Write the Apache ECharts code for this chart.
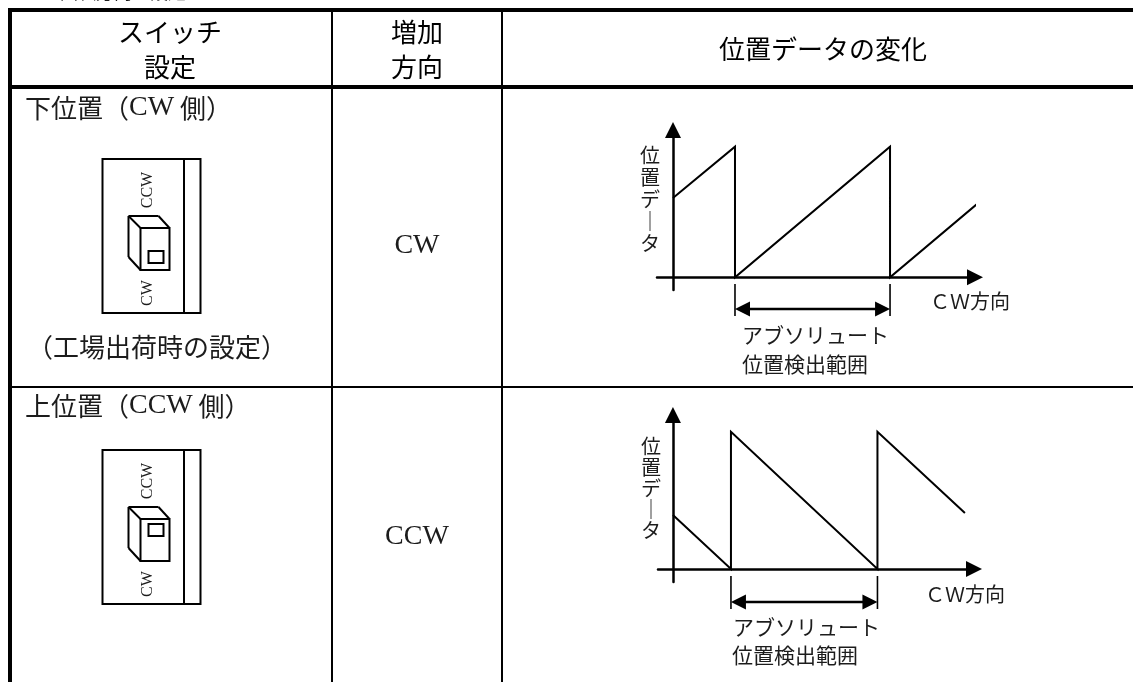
<!DOCTYPE html>
<html lang="ja">
<head>
<meta charset="utf-8">
<style>html,body{margin:0;padding:0;background:#fff}#c{width:1133px;height:682px}</style>
<script src="https://cdn.jsdelivr.net/npm/echarts@6/dist/echarts.min.js"></script>
</head>
<body>
<div id="c"></div>
<script>
// Data: position data against rotation (unit = one absolute detection range)
const cwAngle   = [0, 0.4, 0.4, 1.4, 1.4, 1.987];
const cwData    = [0.607, 1, 0, 1, 0, 0.587];
const ccwAngle  = [0, 0.396, 0.396, 1.396, 1.396, 1.993];
const ccwData   = [0.393, 0, 1, 0, 1, 0.408];
const rangeCw   = [0.4, 1.4];
const rangeCcw  = [0.396, 1.396];
// Text
const headSwitch = ['スイッチ', '設定'];
const headDir    = ['増加', '方向'];
const headData   = '位置データの変化';
const rowLabels  = [['下位置（', 'CW', ' 側）'], ['上位置（', 'CCW', ' 側）']];
const rowNote    = '（工場出荷時の設定）';
const dirLabels  = ['CW', 'CCW'];
const yName      = '位\n置\nデ\n｜\nタ';
const xName      = 'ＣＷ方向';
const rangeLabel = ['アブソリュート', '位置検出範囲'];
const pageTitle  = '回転方向の設定';

const SERIF = '"Liberation Serif","Noto Sans CJK JP",serif';
const CJK = '"Noto Sans CJK JP",sans-serif';
const INK = '#000';
const TXT = '#1c1c1c';

const pairs = (xs, ys) => xs.map((x, i) => [x, ys[i]]);
const chart = echarts.init(document.getElementById('c'), null, {renderer: 'canvas'});

function xAxisOf(i, min, max) {
  return {type: 'value', gridIndex: i, min, max, show: true,
    axisLine: {onZero: true, symbol: ['none', 'triangle'], symbolSize: [16, 16],
      lineStyle: {color: INK, width: 2.5}},
    axisTick: {show: false}, axisLabel: {show: false}, splitLine: {show: false}};
}
function yAxisOf(i, min, max, gap, pitch) {
  return {type: 'value', gridIndex: i, min, max,
    name: yName + '\n', nameLocation: 'middle', nameGap: gap, nameRotate: 0, nameMoveOverlap: false,
    nameTextStyle: {fontFamily: CJK, fontSize: 20, lineHeight: pitch, color: TXT},
    axisLine: {onZero: true, symbol: ['none', 'triangle'], symbolSize: [16, 16],
      lineStyle: {color: INK, width: 2.5}},
    axisTick: {show: false}, axisLabel: {show: false}, splitLine: {show: false}};
}
function sawSeries(i, xs, ys) {
  return {type: 'line', xAxisIndex: i, yAxisIndex: i, data: pairs(xs, ys), clip: false,
    symbol: 'none', silent: true, animation: false,
    lineStyle: {color: INK, width: 2, join: 'miter'}};
}

chart.setOption({
  animation: false,
  backgroundColor: '#fff',
  grid: [
    {left: 657, top: 130, width: 318, height: 160},
    {left: 658, top: 415, width: 316, height: 167}
  ],
  xAxis: [xAxisOf(0, -0.103, 1.948), xAxisOf(1, -0.102, 2.055)],
  yAxis: [yAxisOf(0, -0.097, 1.128, -3, 22), yAxisOf(1, -0.095, 1.122, -3, 21)],
  series: [sawSeries(0, cwAngle, cwData), sawSeries(1, ccwAngle, ccwData)]
});

// --- helpers for the surrounding table and annotations ---
const rect = (x, y, w, h) => ({type: 'rect', shape: {x, y, width: w, height: h}, style: {fill: INK}, silent: true});
const line = (x1, y1, x2, y2, w) => ({type: 'line', shape: {x1, y1, x2, y2}, style: {stroke: INK, lineWidth: w || 2}, silent: true});
const box = (x, y, w, h, lw) => ({type: 'rect', shape: {x, y, width: w, height: h}, style: {fill: 'none', stroke: INK, lineWidth: lw || 2}, silent: true});
const text = (x, y, t, size, fam, align, extra) => ({type: 'text', x, y, silent: true,
  style: Object.assign({text: t, fontSize: size, fontFamily: fam, fill: TXT, align: align || 'center', verticalAlign: 'middle'}, extra || {})});
const rich = (x, y, parts) => ({type: 'text', x, y, silent: true, style: {
  text: '{j|' + parts[0] + '}{l|' + parts[1] + '}{j|' + parts[2] + '}',
  verticalAlign: 'middle', align: 'left', rich: {
    j: {fontSize: 26, fontFamily: CJK, fill: TXT},
    l: {fontSize: 28, fontFamily: SERIF, fill: TXT}
  }}});

function switchDrawing(dy, winY, winDy) {
  const x0 = 102;
  return [
    box(x0 + 0.5, 159 + dy, 98, 154),
    line(184, 159 + dy, 184, 313 + dy),
    box(140.5, 228 + dy, 29, 42),
    box(148.5, winY, 15, winDy),
    line(128.5, 216 + dy, 158.5, 216 + dy),
    line(128.5, 216 + dy, 128.5, 257 + dy),
    line(128.5, 216 + dy, 140.5, 228 + dy),
    line(158.5, 216 + dy, 169.5, 228 + dy),
    line(128.5, 257 + dy, 140.5, 270 + dy),
    text(148, 190 + dy, 'CCW', 16, SERIF, 'center', {}),
    text(148, 293 + dy, 'CW', 16, SERIF, 'center', {})
  ].map(g => {
    if (g.type === 'text') { g.rotation = Math.PI / 2; }
    return g;
  });
}

function dimension(gridIndex, range, yTop, yBottom, yArrow) {
  const a = chart.convertToPixel({gridIndex}, [range[0], 0])[0];
  const b = chart.convertToPixel({gridIndex}, [range[1], 0])[0];
  const head = 15, half = 7.5;
  return [
    line(a, yTop, a, yBottom, 1.6),
    line(b, yTop, b, yBottom, 1.6),
    line(a + 8, yArrow, b - 8, yArrow, 2.5),
    {type: 'polygon', shape: {points: [[a, yArrow], [a + head, yArrow - half], [a + head, yArrow + half]]}, style: {fill: INK}, silent: true},
    {type: 'polygon', shape: {points: [[b, yArrow], [b - head, yArrow - half], [b - head, yArrow + half]]}, style: {fill: INK}, silent: true}
  ];
}

const elements = [
  text(60, -8, pageTitle, 18, CJK, 'left'),
  // table rules
  rect(8, 8, 1125, 4),
  rect(8, 8, 4, 674),
  rect(8, 85, 1125, 4),
  rect(331, 8, 2, 674),
  rect(501, 8, 2, 674),
  rect(8, 386, 1125, 2),
  // header
  text(170, 32, headSwitch[0], 26, CJK, 'center', {fill: INK}),
  text(170, 67, headSwitch[1], 26, CJK, 'center', {fill: INK}),
  text(417, 32, headDir[0], 26, CJK, 'center', {fill: INK}),
  text(417, 67, headDir[1], 26, CJK, 'center', {fill: INK}),
  text(823, 49, headData, 26, CJK, 'center', {fill: INK}),
  // row labels
  rich(25, 108, rowLabels[0]),
  rich(25, 406, rowLabels[1]),
  text(27, 347, rowNote, 26, CJK, 'left'),
  text(417, 246, dirLabels[0], 28, SERIF),
  text(417, 537, dirLabels[1], 28, SERIF),
  // axis captions
  text(930, 301, xName, 20, CJK, 'left'),
  text(925, 594, xName, 20, CJK, 'left'),
  text(742, 335, rangeLabel[0], 21, CJK, 'left'),
  text(742, 364, rangeLabel[1], 21, CJK, 'left'),
  text(733, 627, rangeLabel[0], 21, CJK, 'left'),
  text(732, 655, rangeLabel[1], 21, CJK, 'left')
].concat(
  switchDrawing(0, 251, 12),
  switchDrawing(291, 524, 12),
  dimension(0, rangeCw, 284, 316, 309),
  dimension(1, rangeCcw, 576, 609, 602)
);
chart.setOption({graphic: {elements}});
</script>
</body>
</html>
